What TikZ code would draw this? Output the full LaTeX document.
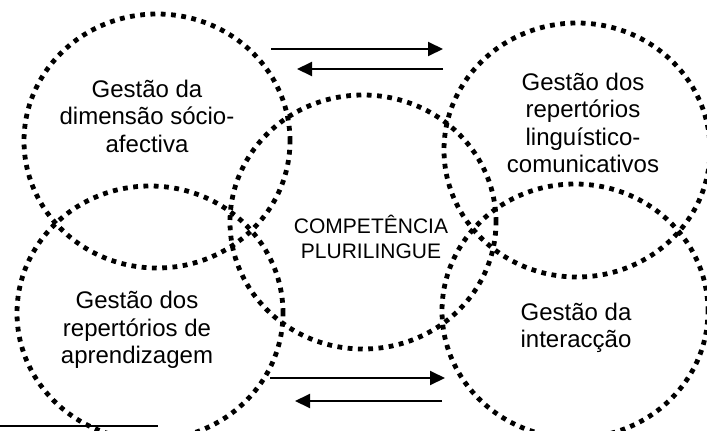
\documentclass[tikz,border=0pt]{standalone}
\usepackage{fontspec}
\setmainfont{Liberation Sans}
\usetikzlibrary{shapes.geometric,arrows.meta}

\begin{document}
\begin{tikzpicture}[
        x=1pt, y=-1pt,
        zone/.style={
            ellipse, draw, line width=4.8pt,
            dash pattern=on 4.8pt off 5.5pt,
            minimum width=266pt, minimum height=254pt,
            inner sep=0pt
        },
        gestao/.style={align=center, font=\fontsize{24}{27.5}\selectfont},
        nucleo/.style={align=center, font=\fontsize{21}{25}\selectfont},
        link/.style={line width=2pt, -{Triangle[length=15pt, width=14pt]}}
    ]
    \useasboundingbox (0,0) rectangle (707,431);

    % the five zones
    \node[zone] (socio)   at (157,141) {};
    \node[zone] (lingua)  at (577,150) {};
    \node[zone] (centro)  at (363,222) {};
    \node[zone] (aprend)  at (150,313) {};
    \node[zone] (interac) at (575,311) {};

    % texts
    \node[gestao] (socio-t)   at (147,116) {Gestão da\\dimensão sócio-\\afectiva};
    \node[gestao] (lingua-t)  at (583,123) {Gestão dos\\repertórios\\linguístico-\\comunicativos};
    \node[nucleo] (centro-t)  at (371,237) {COMPETÊNCIA\\PLURILINGUE};
    \node[gestao] (aprend-t)  at (137,330) {Gestão dos\\repertórios de\\aprendizagem};
    \node[gestao] (interac-t) at (576,328) {Gestão da\\interacção};

    % arrows
    \coordinate (top-a) at (271,49);
    \coordinate (top-b) at (443,49);
    \coordinate (top-c) at (443,69);
    \coordinate (top-d) at (297,69);
    \coordinate (bot-a) at (270,378);
    \coordinate (bot-b) at (445,378);
    \coordinate (bot-c) at (442,401);
    \coordinate (bot-d) at (295,401);
    \draw[link] (top-a) -- (top-b);
    \draw[link] (top-c) -- (top-d);
    \draw[link] (bot-a) -- (bot-b);
    \draw[link] (bot-c) -- (bot-d);

    % rule
    \coordinate (rule-a) at (0,426);
    \coordinate (rule-b) at (158,426);
    \draw[line width=1.5pt] (rule-a) -- (rule-b);
\end{tikzpicture}
\end{document}
